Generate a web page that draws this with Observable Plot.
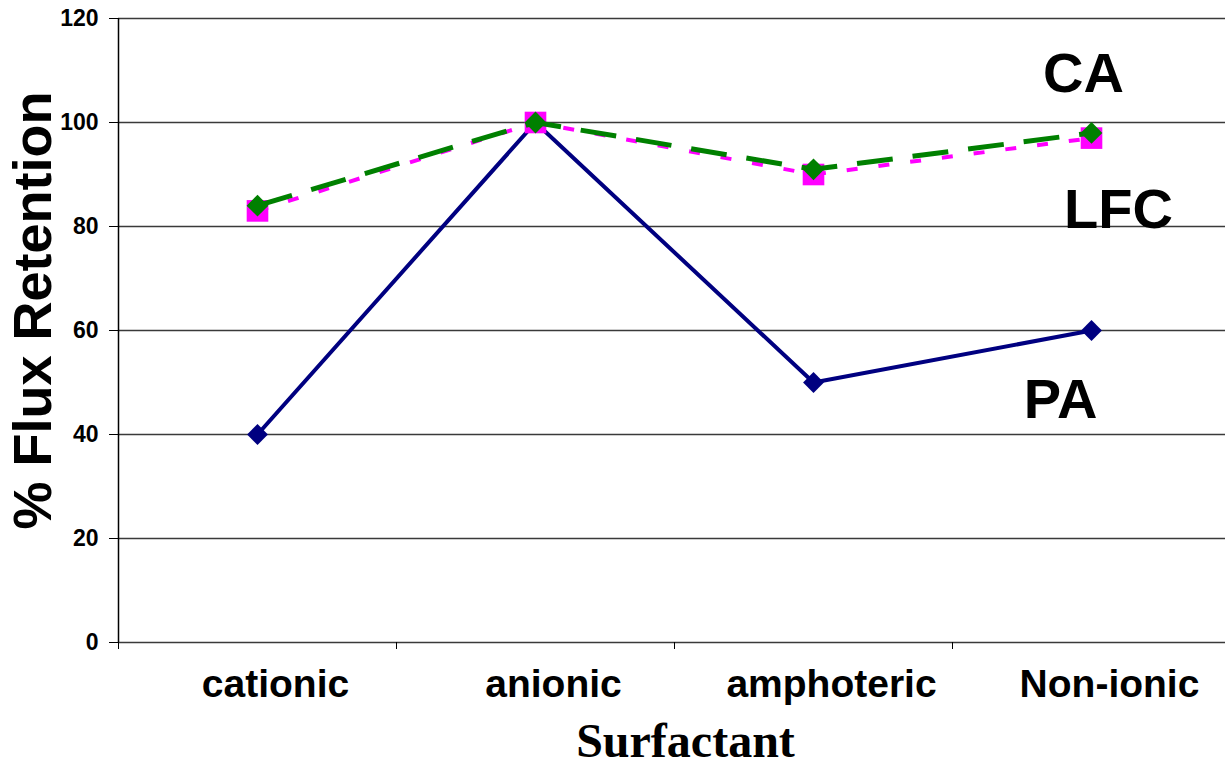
<!DOCTYPE html>
<html>
<head>
<meta charset="utf-8">
<script src="https://cdn.jsdelivr.net/npm/d3@7"></script>
<script src="https://cdn.jsdelivr.net/npm/@observablehq/plot@0.6"></script>
<style>
  html, body { margin: 0; padding: 0; background: #fff; }
  #chart { width: 1225px; height: 766px; }
</style>
</head>
<body>
<div id="chart"></div>
<script>
const categories = ["cationic", "anionic", "amphoteric", "Non-ionic"];
const paValues  = [40, 100, 50, 60];
const caValues  = [84, 100, 91, 98];
const lfcValues = [83, 100, 90, 97];
const yTicks = [0, 20, 40, 60, 80, 100, 120];

const rows = (vals) => vals.map((v, i) => ({cat: categories[i], i: i + 0.5, v}));
const pa = rows(paValues), ca = rows(caValues), lfc = rows(lfcValues);
const catRows = categories.map((c, i) => ({c, i: i + 0.5}));
const font = "'Liberation Sans', Arial, sans-serif";

const chart = Plot.plot({
  width: 1225,
  height: 766,
  marginLeft: 118,
  marginRight: -5,
  marginTop: 18,
  marginBottom: 124,
  style: {fontFamily: font, background: "#fff", color: "#000"},
  x: {domain: [0, categories.length]},
  y: {domain: [0, 120]},
  marks: [
    Plot.ruleY(yTicks, {stroke: "#3a3a3a", strokeWidth: 1.3}),
    Plot.ruleX([0], {stroke: "#000", strokeWidth: 1.5}),
    Plot.axisY({ticks: yTicks, tickSize: 9, tickPadding: 11, label: null,
      fontSize: 23, fontWeight: "bold", fontFamily: font, stroke: "#000"}),
    Plot.axisX({ticks: d3.range(categories.length + 1), tickSize: 7, tickFormat: () => "", label: null}),
    Plot.text(catRows, {x: "i", y: () => 0, text: "c", dx: 18, dy: 42, lineAnchor: "middle",
      fontSize: 39, fontWeight: "bold", fontFamily: font, fill: "#000"}),
    // PA
    Plot.line(pa, {x: "i", y: "v", stroke: "#000080", strokeWidth: 4, strokeLinecap: "butt", strokeLinejoin: "miter"}),
    Plot.dot(pa, {x: "i", y: "v", symbol: d3.symbolDiamond2, r: 9.4, fill: "#000080", stroke: "none"}),
    // LFC
    Plot.line(lfc, {x: "i", y: "v", stroke: "#ff00ff", strokeWidth: 4, strokeDasharray: "11,21", strokeLinecap: "butt"}),
    Plot.dot(lfc, {x: "i", y: "v", symbol: d3.symbolSquare, r: 12.2, fill: "#ff00ff", stroke: "none"}),
    // CA
    Plot.line(ca, {x: "i", y: "v", stroke: "#008000", strokeWidth: 5, strokeDasharray: "36,20", strokeLinecap: "butt"}),
    Plot.dot(ca, {x: "i", y: "v", symbol: d3.symbolDiamond2, r: 9.8, fill: "#008000", stroke: "none"}),
    // series labels
    Plot.text([ca[ca.length - 1]], {x: "i", y: "v", text: () => "CA", dx: -8, dy: -59, lineAnchor: "middle",
      fontSize: 56, fontWeight: "bold", fontFamily: font, fill: "#000"}),
    Plot.text([lfc[lfc.length - 1]], {x: "i", y: "v", text: () => "LFC", dx: 27, dy: 72, lineAnchor: "middle",
      fontSize: 56, fontWeight: "bold", fontFamily: font, fill: "#000"}),
    Plot.text([pa[pa.length - 1]], {x: "i", y: "v", text: () => "PA", dx: -31, dy: 70, lineAnchor: "middle",
      fontSize: 56, fontWeight: "bold", fontFamily: font, fill: "#000"}),
    // axis titles
    Plot.text(["% Flux Retention"], {frameAnchor: "left", text: d => d, rotate: -90, dx: -85, dy: -20,
      textAnchor: "middle", lineAnchor: "middle", fontSize: 54, fontWeight: "bold", fontFamily: font, fill: "#000"}),
    Plot.text(["Surfactant"], {frameAnchor: "bottom", text: d => d, dx: 11, dy: 99, textAnchor: "middle", lineAnchor: "middle",
      fontSize: 48, fontWeight: "bold", fontFamily: "'Liberation Serif', 'Times New Roman', serif", fill: "#000"})
  ]
});
document.getElementById("chart").appendChild(chart);
</script>
</body>
</html>
